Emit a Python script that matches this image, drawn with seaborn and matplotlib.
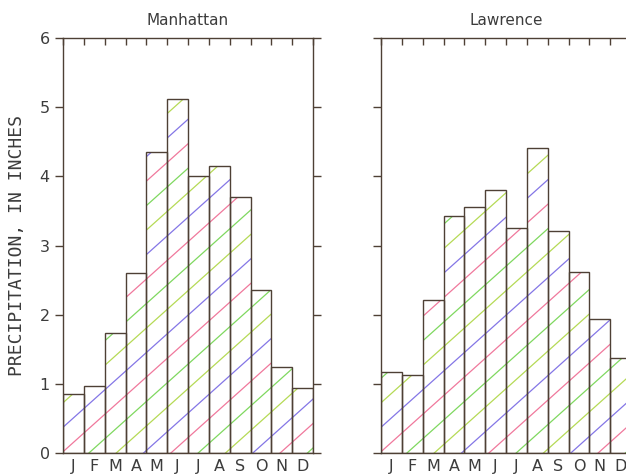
import numpy as np
import pandas as pd
import matplotlib
matplotlib.use("Agg")
import matplotlib.pyplot as plt
import seaborn as sns
from matplotlib.collections import LineCollection
from matplotlib.ticker import FixedLocator

# monthly precipitation, inches
months = ["Jan", "Feb", "Mar", "Apr", "May", "Jun",
          "Jul", "Aug", "Sep", "Oct", "Nov", "Dec"]
month_letters = ["J", "F", "M", "A", "M", "J", "J", "A", "S", "O", "N", "D"]
manhattan = [0.85, 0.97, 1.73, 2.60, 4.35, 5.12, 4.00, 4.15, 3.70, 2.35, 1.24, 0.94]
lawrence = [1.17, 1.13, 2.21, 3.42, 3.55, 3.80, 3.25, 4.41, 3.21, 2.62, 1.94, 1.37]
stations = ["Manhattan", "Lawrence"]
y_ticks = [0, 1, 2, 3, 4, 5, 6]

ink = "#4e4035"
text_col = "#3c3c3c"
hatch_cols = ["#7fd85f", "#f0789c", "#8476e6", "#b5da55"]

sns.set_style("white")
plt.rcParams["font.family"] = ["DejaVu Sans"]

fig = plt.figure(figsize=(6.26, 4.76), dpi=100)
ax1 = fig.add_axes([63 / 626, 23 / 476, 250 / 626, 415 / 476])
ax2 = fig.add_axes([381 / 626, 23 / 476, 250 / 626, 415 / 476])


def add_hatch(ax):
    # diagonal hatch drawn as thin coloured lines, clipped to each bar
    slope = 0.27
    step = 0.354
    offsets = np.arange(-6, 8, step)
    xs = np.array([-1.0, 13.0])
    for bar in ax.patches:
        segs = [np.column_stack([xs, slope * (xs + 0.5) + b]) for b in offsets]
        cols = [hatch_cols[i % len(hatch_cols)] for i in range(len(offsets))]
        lc = LineCollection(segs, colors=cols, linewidths=0.9, zorder=1.5)
        ax.add_collection(lc)
        lc.set_clip_path(bar)


for ax, name, vals in [(ax1, stations[0], manhattan), (ax2, stations[1], lawrence)]:
    df = pd.DataFrame({"month": months, "precip": vals})
    sns.barplot(data=df, x="month", y="precip", order=months, ax=ax,
                color="white", saturation=1, width=1.0, errorbar=None,
                edgecolor=ink, linewidth=1.0, zorder=2)
    for bar in ax.patches:
        bar.set_facecolor("none")
    add_hatch(ax)

    ax.set_xlim(-0.5, 11.5)
    ax.set_ylim(0, 6)
    ax.set_yticks(y_ticks)
    ax.set_xticks(range(12))
    ax.set_xticklabels(month_letters, fontsize=11.5, color=text_col)
    ax.xaxis.set_minor_locator(FixedLocator(np.arange(-0.5, 12, 1)))
    ax.tick_params(axis="x", which="major", length=0, pad=4,
                   bottom=True, top=False)
    ax.tick_params(axis="x", which="minor", direction="in", length=5,
                   width=1, color=ink, top=True, bottom=False)
    ax.tick_params(axis="y", direction="out", length=6, width=1, color=ink,
                   left=True, right=True, labelsize=11.5, labelcolor=text_col)
    for sp in ax.spines.values():
        sp.set_color(ink)
        sp.set_linewidth(1.0)
    ax.set_xlabel("")
    ax.set_ylabel("")
    ax.set_title(name, fontsize=11, color=text_col, pad=9)

ax1.set_ylabel("PRECIPITATION, IN INCHES", fontsize=13, color=text_col,
               family=["DejaVu Sans Mono"], labelpad=10)
ax2.tick_params(axis="y", labelleft=False)

fig.savefig("out.png", dpi=100)
